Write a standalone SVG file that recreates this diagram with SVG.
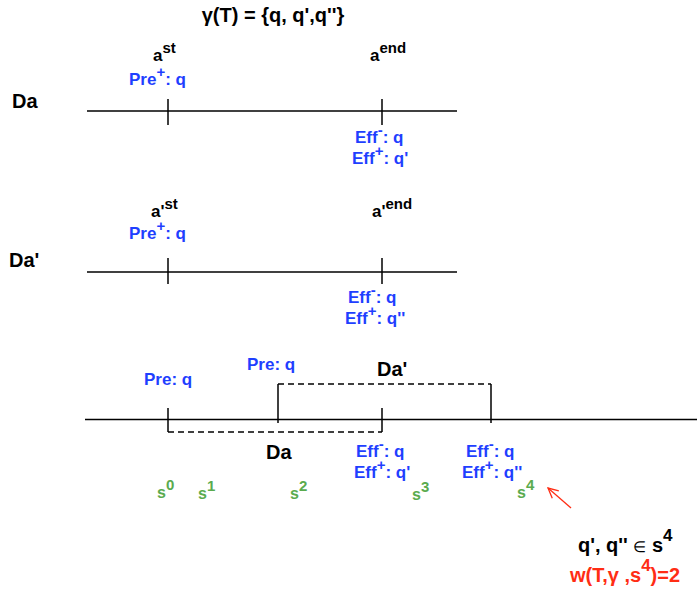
<svg xmlns="http://www.w3.org/2000/svg" width="697" height="590" viewBox="0 0 697 590">
<style>
text{font-family:"Liberation Sans",Arial,sans-serif;font-weight:bold}
.t{font-size:20px;fill:#000}
.k{font-size:17px;fill:#000}
.b{font-size:17px;fill:#1f3fff}
.g{font-size:16px;fill:#5aab4e}
.r{font-size:20px;fill:#ff2d14}
.sup{font-size:15px}
.ln{stroke:#000;stroke-width:1.5;fill:none}
.ds{stroke:#000;stroke-width:1.5;fill:none;stroke-dasharray:6,4}
</style>
<defs>
<marker id="ah" markerWidth="12" markerHeight="12" refX="11" refY="6" orient="auto" markerUnits="userSpaceOnUse">
<path d="M1,1 L11,6 L1,11" fill="none" stroke="#ff2d14" stroke-width="1.3"/>
</marker>
</defs>
<text class="t" x="273" y="22" text-anchor="middle">γ(T) = {q, q',q''}</text>

<g id="Da-timeline">
<text class="t" x="12" y="108">Da</text>
<text class="k" x="153" y="61">a<tspan class="sup" dy="-8">st</tspan></text>
<text class="b" x="129" y="85">Pre<tspan class="sup" dy="-8">+</tspan><tspan dy="8">: q</tspan></text>
<text class="k" x="370" y="61">a<tspan class="sup" dy="-8">end</tspan></text>
<text class="b" x="355" y="143">Eff<tspan class="sup" dy="-8">-</tspan><tspan dy="8">: q</tspan></text>
<text class="b" x="352" y="164">Eff<tspan class="sup" dy="-8">+</tspan><tspan dy="8">: q'</tspan></text>
</g>

<g id="Da2-timeline">
<text class="t" x="9" y="267">Da'</text>
<text class="k" x="151" y="217">a'<tspan class="sup" dy="-8">st</tspan></text>
<text class="b" x="129" y="239">Pre<tspan class="sup" dy="-8">+</tspan><tspan dy="8">: q</tspan></text>
<text class="k" x="372" y="217">a'<tspan class="sup" dy="-8">end</tspan></text>
<text class="b" x="348" y="303">Eff<tspan class="sup" dy="-8">-</tspan><tspan dy="8">: q</tspan></text>
<text class="b" x="345" y="324">Eff<tspan class="sup" dy="-8">+</tspan><tspan dy="8">: q''</tspan></text>
</g>

<g id="merged-timeline">
<text class="b" x="144" y="385">Pre: q</text>
<text class="b" x="247" y="370">Pre: q</text>
<text class="t" x="377" y="376">Da'</text>
<text class="t" x="266" y="459">Da</text>
<text class="b" x="356" y="457">Eff<tspan class="sup" dy="-8">-</tspan><tspan dy="8">: q</tspan></text>
<text class="b" x="354" y="478">Eff<tspan class="sup" dy="-8">+</tspan><tspan dy="8">: q'</tspan></text>
<text class="b" x="466" y="457">Eff<tspan class="sup" dy="-8">-</tspan><tspan dy="8">: q</tspan></text>
<text class="b" x="462" y="478">Eff<tspan class="sup" dy="-8">+</tspan><tspan dy="8">: q''</tspan></text>
</g>

<g id="states">
<text class="g" x="157" y="498">s<tspan class="sup" dy="-8">0</tspan></text>
<text class="g" x="198" y="499">s<tspan class="sup" dy="-8">1</tspan></text>
<text class="g" x="290" y="499">s<tspan class="sup" dy="-8">2</tspan></text>
<text class="g" x="412" y="500">s<tspan class="sup" dy="-8">3</tspan></text>
<text class="g" x="517" y="498">s<tspan class="sup" dy="-8">4</tspan></text>
</g>

<g id="annotation">
<text class="k" x="578" y="552" style="font-size:20px">q', q'' <tspan style="font-weight:normal;font-size:15px">∈</tspan>  s<tspan style="font-size:17px" dy="-11">4</tspan></text>
<text class="r" x="570" y="582">w(T,γ ,s<tspan style="font-size:17px" dy="-11">4</tspan><tspan dy="11">)=2</tspan></text>
</g>

<g id="connectors">
<line class="ln" x1="87" y1="111" x2="457" y2="111"/>
<line class="ln" x1="168" y1="99" x2="168" y2="125"/>
<line class="ln" x1="382" y1="99" x2="382" y2="125"/>

<line class="ln" x1="87" y1="272" x2="457" y2="272"/>
<line class="ln" x1="168" y1="258" x2="168" y2="284"/>
<line class="ln" x1="382" y1="258" x2="382" y2="284"/>

<line class="ln" x1="85" y1="419.5" x2="697" y2="419.5"/>
<line class="ln" x1="168" y1="408" x2="168" y2="432"/>
<line class="ln" x1="382" y1="408" x2="382" y2="432"/>
<line class="ln" x1="278" y1="384" x2="278" y2="423"/>
<line class="ln" x1="491" y1="384" x2="491" y2="423"/>
<line class="ds" x1="278" y1="384" x2="491" y2="384"/>
<line class="ds" x1="168" y1="432" x2="382" y2="432"/>

<line x1="571" y1="508" x2="548" y2="488" stroke="#ff2d14" stroke-width="1.3" marker-end="url(#ah)"/>
</g>
</svg>
